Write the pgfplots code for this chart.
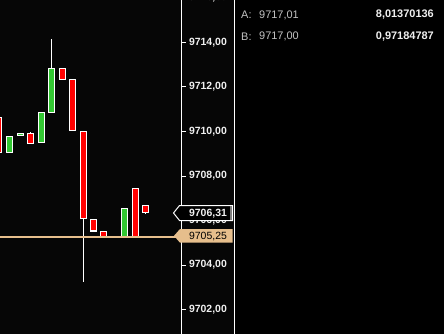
\documentclass[border=0pt]{standalone}
\usepackage{pgfplots}
\pgfplotsset{compat=1.18}
\usepackage{fontspec}
\setmainfont{Liberation Sans}
\definecolor{bg}{RGB}{6,6,6}
\definecolor{bull}{RGB}{50,200,50}
\definecolor{bear}{RGB}{255,0,0}
\definecolor{tanline}{RGB}{230,190,140}
\definecolor{lbl}{RGB}{195,195,195}
\definecolor{val}{RGB}{240,240,240}

% candle: centre, body left, body right, open, high, low, close, body colour
\newcommand{\candle}[8]{%
  \addplot[white, line width=1.1bp, forget plot] coordinates {(#1,#6) (#1,#5)};
  \addplot[fill=#8, draw=white, line width=1.35bp, forget plot]
    coordinates {(#2,#4) (#3,#4) (#3,#7) (#2,#7)} -- cycle;
}

\begin{document}
\begin{tikzpicture}[x=1bp,y=1bp]
\path[use as bounding box] (0,0) rectangle (444,334);
\clip (0,0) rectangle (444,334);
\fill[bg] (0,0) rectangle (234,334);
\fill[black] (234,0) rectangle (444,334);
\draw[white, line width=1bp] (234.5,0) -- (234.5,334);

\begin{axis}[
  at={(0,0)}, anchor=south west, scale only axis,
  width=181.5bp, height=334bp,
  xmin=0, xmax=181.5, ymin=9700.89888, ymax=9715.91011,
  axis x line=none, axis y line*=right,
  axis line style={white, line width=1bp},
  xtick=\empty,
  ytick={9702,9704,9706,9708,9710,9712,9714},
  tick align=outside, major tick length=4bp,
  tick style={white, line width=1bp},
  /pgf/number format/assume math mode=true,
  yticklabel={\pgfmathprintnumber[fixed,fixed zerofill,precision=2,use comma,1000 sep={}]{\tick}},
  yticklabel style={font=\bfseries\fontsize{10.5}{12}\selectfont, text=val, anchor=west},
  clip mode=individual,
]
%        centre  left    right    open     high     low      close
\candle {-1.5}  {-4.5}  {1.5}   {9710.63}{9710.65}{9709.05}{9709.05}{bear}
\candle {9.5}   {6.5}   {12.5}  {9709.05}{9709.78}{9709.05}{9709.78}{bull}
\candle {20.5}  {17.5}  {23.5}  {9709.82}{9709.91}{9709.82}{9709.91}{bull}
\candle {30.5}  {27.5}  {33.5}  {9709.91}{9709.98}{9709.46}{9709.46}{bear}
\candle {41.5}  {38.5}  {44.5}  {9709.50}{9710.86}{9709.50}{9710.86}{bull}
\candle {51.5}  {48.5}  {54.5}  {9710.85}{9714.16}{9710.85}{9712.83}{bull}
\candle {62.5}  {59.5}  {65.5}  {9712.83}{9712.83}{9712.33}{9712.33}{bear}
\candle {72.5}  {69.5}  {75.5}  {9712.34}{9712.34}{9710.04}{9710.04}{bear}
\candle {83.5}  {80.5}  {86.5}  {9710.00}{9710.00}{9703.24}{9706.09}{bear}
\candle {93.5}  {90.5}  {96.5}  {9706.05}{9706.05}{9705.53}{9705.53}{bear}
\candle{103.5} {100.5} {106.5}  {9705.51}{9705.51}{9705.28}{9705.28}{bear}
\candle{114.5} {111.5} {117.5}  {9705.28}{9705.28}{9705.28}{9705.28}{white}
\candle{124.5} {121.5} {127.5}  {9705.28}{9706.54}{9705.28}{9706.54}{bull}
\candle{135.5} {132.5} {138.5}  {9707.44}{9707.44}{9705.28}{9705.28}{bear}
\candle{145.5} {142.5} {148.5}  {9706.68}{9706.68}{9706.29}{9706.36}{bear}
% last price line
\addplot[tanline, line width=2bp, forget plot] coordinates {(0,9705.25) (181.5,9705.25)};
\end{axis}

% price tags
\draw[white, fill=black, line width=1bp]
  (173.5,121) -- (179.5,128.5) -- (232.5,128.5) -- (232.5,113.5) -- (179.5,113.5) -- cycle;
\fill[gray] (230,128) rectangle (232,114);
\node[text=val, font=\bfseries\fontsize{10.5}{12}\selectfont, inner sep=0pt] at (208,120) {9706,31};
\fill[tanline]
  (174,98.2) -- (180,105) -- (232.5,105) -- (232.5,91.3) -- (180,91.3) -- cycle;
\node[text=black, font=\fontsize{10.5}{12}\selectfont, inner sep=0pt] at (208,97.8) {9705,25};

% cut-off top label
\node[text=val, font=\bfseries\fontsize{10.5}{12}\selectfont, anchor=west, inner sep=0pt] at (189,336) {9716,00};

% right panel
\node[text=lbl, font=\fontsize{11}{13}\selectfont, anchor=west, inner sep=0pt] at (241,319) {A:};
\node[text=lbl, font=\fontsize{11}{13}\selectfont, anchor=west, inner sep=0pt] at (259,319) {9717,01};
\node[text=lbl, font=\fontsize{11}{13}\selectfont, anchor=west, inner sep=0pt] at (241,297.3) {B:};
\node[text=lbl, font=\fontsize{11}{13}\selectfont, anchor=west, inner sep=0pt] at (259,297.3) {9717,00};
\node[text=val, font=\bfseries\fontsize{11}{13}\selectfont, anchor=east, inner sep=0pt] at (434,319) {8,01370136};
\node[text=val, font=\bfseries\fontsize{11}{13}\selectfont, anchor=east, inner sep=0pt] at (434,297.3) {0,97184787};
\end{tikzpicture}
\end{document}
